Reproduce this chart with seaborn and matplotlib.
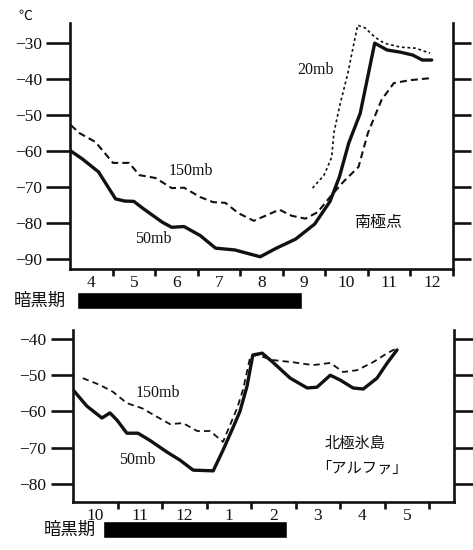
import matplotlib
matplotlib.use("Agg")
import matplotlib.pyplot as plt
import seaborn as sns
import pandas as pd

# ---------------- data (month index; April = 4, ... ; label at month centre) -------------
# South Pole (南極点)
sp_50_month = [4.02, 4.29, 4.67, 5.07, 5.28, 5.50, 5.72, 6.17, 6.39, 6.68, 7.06, 7.42, 7.87,
               8.47, 8.85, 9.30, 9.75, 10.11, 10.33, 10.55, 10.82, 11.16, 11.45, 11.76,
               12.05, 12.28, 12.50]
sp_50_temp = [-60, -62.2, -65.8, -73.3, -73.9, -74, -76, -79.8, -81.2, -81.0, -83.5, -87, -87.5,
              -89.4, -87, -84.5, -80.3, -74, -67.2, -57.8, -49.5, -30, -31.9, -32.5,
              -33.3, -34.7, -34.7]

sp_150_month = [4.02, 4.22, 4.60, 5.01, 5.39, 5.63, 6.01, 6.39, 6.68, 7.06, 7.36, 7.65, 7.96,
                8.32, 8.63, 8.92, 9.21, 9.53, 9.82, 10.11, 10.42, 10.78, 11.00, 11.32,
                11.61, 11.99, 12.50]
sp_150_temp = [-52.8, -55, -57.5, -63.3, -63.3, -66.7, -67.5, -70.3, -70.2, -72.8, -74.2, -74.4,
               -77.3, -79.4, -77.8, -76.3, -78, -78.8, -77, -72.8, -68.6, -64.4, -55, -45.8,
               -41.1, -40.3, -39.7]

sp_20_month = [9.70, 9.97, 10.15, 10.20, 10.33, 10.53, 10.64, 10.76, 10.94, 11.16, 11.38,
               11.76, 12.12, 12.46]
sp_20_temp = [-70.3, -66.7, -61.7, -55, -47.8, -38.3, -31.9, -25, -25.8, -28.3, -30,
              -31.1, -31.4, -32.8]

sp_tick_labels = ["4", "5", "6", "7", "8", "9", "10", "11", "12"]
sp_dark_period = [4.16, 9.19]

# Arctic ice island "Alpha" (北極氷島「アルファ」); Jan = 13, ... May = 17
np_50_month = [10.02, 10.31, 10.65, 10.83, 10.99, 11.21, 11.46, 11.73, 12.11, 12.40, 12.70,
               13.15, 13.37, 13.60, 13.75, 13.91, 14.04, 14.25, 14.49, 14.88, 15.26, 15.48,
               15.78, 16.00, 16.29, 16.52, 16.83, 17.06, 17.28]
np_50_temp = [-54.3, -58.5, -61.8, -60.4, -62.4, -66, -66, -68, -71.2, -73.4, -76.2,
              -76.4, -70.7, -64.3, -60, -53, -44.4, -43.9, -46.4, -50.8, -53.5, -53.3,
              -50, -51.3, -53.5, -53.8, -50.8, -46.6, -43]

np_150_month = [10.22, 10.61, 10.90, 11.21, 11.55, 11.89, 12.18, 12.47, 12.79, 13.08, 13.37,
                13.69, 13.82, 13.98, 14.13, 14.49, 14.94, 15.39, 15.78, 16.07, 16.38,
                16.74, 17.06, 17.28]
np_150_temp = [-50.8, -52.7, -54.6, -57.7, -59.1, -61.5, -63.5, -63.2, -65.4, -65.4, -68.4,
               -59, -54, -45, -44.4, -45.8, -46.4, -47.2, -46.6, -49.1, -48.6,
               -46.4, -43.9, -42.5]

np_tick_labels = ["10", "11", "12", "1", "2", "3", "4", "5"]
np_dark_period = [10.67, 14.81]

# ---------------- style ----------------
sns.set_theme(style="white")
plt.rcParams["font.family"] = ["Liberation Serif", "DejaVu Serif"]
plt.rcParams["lines.scale_dashes"] = False
CJK = ["Noto Sans CJK JP", "DejaVu Sans"]
INK = "#111111"

W, H = 473, 550
fig = plt.figure(figsize=(W / 100, H / 100), dpi=100)
fig.patch.set_facecolor("white")


def frac_axes(left, top, right, bottom):
    return fig.add_axes([left / W, 1 - bottom / H, (right - left) / W, (bottom - top) / H])


def style_panel(ax, xlim, ylim, yticks, labels):
    ax.set_facecolor("white")
    ax.set_xlim(*xlim)
    ax.set_ylim(*ylim)
    ax.spines["top"].set_visible(False)
    for s in ("left", "right", "bottom"):
        ax.spines[s].set_visible(True)
        ax.spines[s].set_linewidth(1.9)
        ax.spines[s].set_color(INK)
    ax.set_yticks(yticks)
    ax.set_yticklabels(["\u2212%d" % abs(v) for v in yticks])
    ax.tick_params(axis="y", which="major", left=True, right=True, labelleft=True,
                   labelright=False, direction="out", length=17, width=1.9,
                   color=INK, labelsize=12.5, pad=3, labelcolor=INK)
    start = int(round(xlim[0]))
    ax.set_xticks(list(range(start + 1, start + len(labels) + 1)))
    ax.set_xticklabels([])
    ax.set_xticks([start + 0.5 + i for i in range(len(labels))], minor=True)
    ax.set_xticklabels(labels, minor=True)
    ax.tick_params(axis="x", which="major", bottom=True, direction="out", length=5,
                   width=1.9, color=INK)
    ax.tick_params(axis="x", which="minor", bottom=True, length=0, labelsize=12.5,
                   pad=4, labelcolor=INK)
    ax.set_xlabel("")
    ax.set_ylabel("")
    ax.grid(False)


def line(ax, xs, ys, lw, ls):
    df = pd.DataFrame({"month": xs, "temp": ys})
    sns.lineplot(data=df, x="month", y="temp", ax=ax, color=INK, linewidth=lw,
                 linestyle=ls, estimator=None, sort=False, legend=False)


# ---------------- top panel: South Pole ----------------
ax1 = frac_axes(70, 23, 453, 269)
line(ax1, sp_150_month, sp_150_temp, 1.5, (0, (5, 3)))
line(ax1, sp_20_month, sp_20_temp, 1.2, (0, (2, 2)))
line(ax1, sp_50_month, sp_50_temp, 2.4, "-")
style_panel(ax1, (4, 12.57), (-92.8, -24.4), [-90, -80, -70, -60, -50, -40, -30], sp_tick_labels)
for t in ax1.yaxis.get_major_ticks():
    t.tick2line.set_markersize(13)

ax1.text(6.84, -65.6, "150mb", fontsize=11.5, ha="center", va="center", color=INK)
ax1.text(5.95, -84.4, "50mb", fontsize=11.5, ha="center", va="center", color=INK)
ax1.text(9.77, -37.5, "20mb", fontsize=11.5, ha="center", va="center", color=INK)
ax1.text(11.25, -80, "南極点", fontsize=11.5, ha="center", va="center", family=CJK, color=INK)

fig.text(25 / W, 1 - 16 / H, "℃", fontsize=10, ha="center", va="center", family=CJK, color=INK)

# dark-period bar (top)
axb1 = frac_axes(70, 292, 453, 309)
axb1.barh([0], [sp_dark_period[1] - sp_dark_period[0]], left=[sp_dark_period[0]],
          height=1.0, color="black")
axb1.set_xlim(4, 12.57)
axb1.set_ylim(-0.5, 0.5)
axb1.axis("off")
fig.text(14 / W, 1 - 301 / H, "暗黒期", fontsize=12.5, ha="left", va="center", family=CJK,
         color=INK)

# ---------------- bottom panel: Arctic ice island ----------------
ax2 = frac_axes(73, 330, 454, 502)
line(ax2, np_150_month, np_150_temp, 1.3, (0, (4.5, 3)))
line(ax2, np_50_month, np_50_temp, 2.4, "-")
style_panel(ax2, (10, 18.56), (-85, -37.5), [-80, -70, -60, -50, -40], np_tick_labels)
for t in ax2.yaxis.get_major_ticks():
    t.tick2line.set_markersize(13)
ax2.tick_params(axis="y", which="major", length=16)

ax2.text(11.91, -54.9, "150mb", fontsize=11.5, ha="center", va="center", color=INK)
ax2.text(11.44, -73.4, "50mb", fontsize=11.5, ha="center", va="center", color=INK)
ax2.text(16.34, -68.7, "北極氷島", fontsize=11, ha="center", va="center", family=CJK, color=INK)
ax2.text(16.5, -75.6, "「アルファ」", fontsize=11, ha="center", va="center", family=CJK,
         color=INK)

axb2 = frac_axes(73, 521, 454, 538)
axb2.barh([0], [np_dark_period[1] - np_dark_period[0]], left=[np_dark_period[0]],
          height=1.0, color="black")
axb2.set_xlim(10, 18.56)
axb2.set_ylim(-0.5, 0.5)
axb2.axis("off")
fig.text(44 / W, 1 - 530 / H, "暗黒期", fontsize=12.5, ha="left", va="center", family=CJK,
         color=INK)

fig.savefig("out.png", dpi=100, facecolor="white")
